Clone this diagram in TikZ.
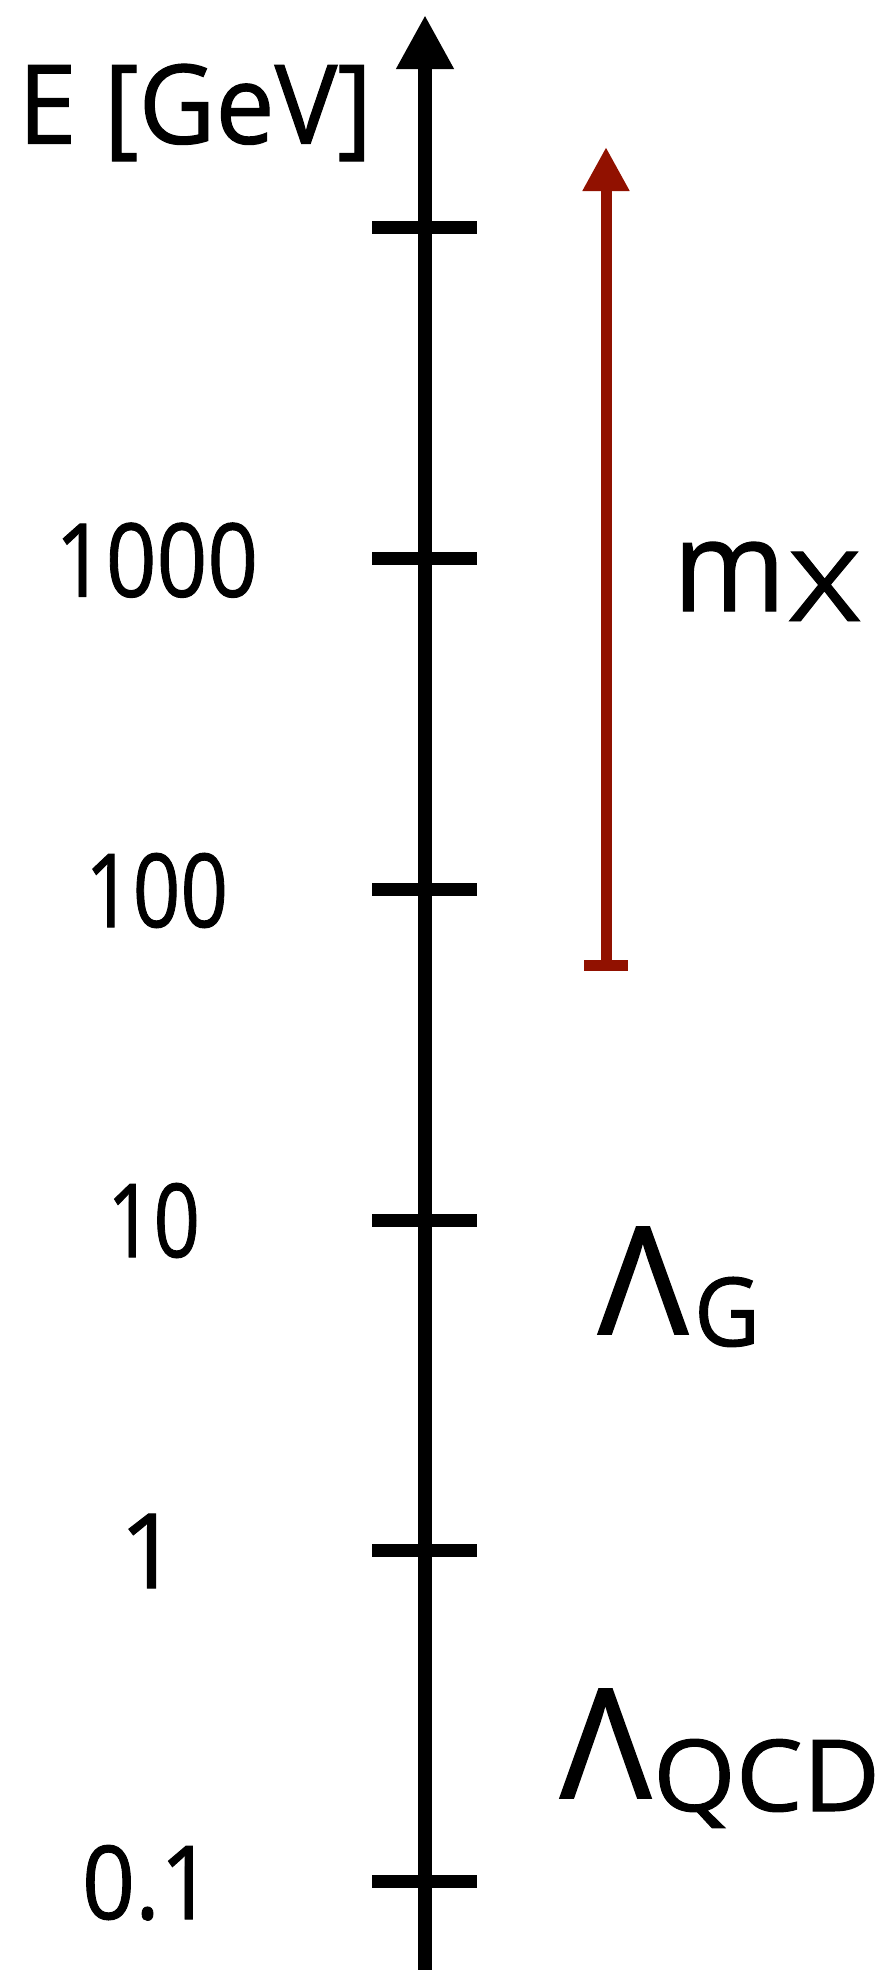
\documentclass[tikz,border=0pt]{standalone}
\usepackage{fontspec}
\setmainfont{Open Sans}[FakeBold=1]
\usetikzlibrary{arrows.meta}
\definecolor{massred}{RGB}{145,17,0}
\begin{document}
\begin{tikzpicture}[x=1pt,y=-1pt,
  lbl/.style={inner sep=0pt,outer sep=0pt,anchor=base west},
  tickmark/.style={line width=13pt},
  axisline/.style={line width=13.5pt,-{Triangle[length=54pt,width=54pt]}},
  massline/.style={massred,line width=11pt}]
\useasboundingbox (0,0) rectangle (883,1970);
% axis
\coordinate (axbot) at (425,1970);
\coordinate (axtop) at (425,15);
\draw[axisline] (axbot) -- (axtop);
\foreach \y in {227.5,558.5,889,1220,1550.5,1881}
  \draw[tickmark] (372,\y) -- (477,\y);
% axis title
\node[inner sep=0pt,outer sep=0pt,anchor=south west] (etitle) at (18,161) {\resizebox*{354pt}{97pt}{E [GeV]}};
% tick labels
\node[lbl] (l1000) at (55,596.7) {\resizebox{203pt}{74pt}{1000}};
\node[lbl] (l100) at (85,927) {\resizebox{143pt}{74pt}{100}};
\node[lbl] (l10) at (107,1257) {\resizebox{93pt}{74pt}{10}};
\node[lbl,anchor=base] (l1) at (149,1588) {\resizebox{!}{74pt}{1}};
\node[lbl] (l01) at (82,1919) {\resizebox{131pt}{74pt}{0.1}};
% mass arrow
\coordinate (mlo) at (606,965.5);
\coordinate (mhi) at (606,147);
\coordinate (barl) at (584,965.5);
\coordinate (barr) at (628,965.5);
\draw[massline,-{Triangle[length=44pt,width=44pt]}] (mlo) -- (mhi);
\draw[massline] (barl) -- (barr);
% scale labels
\node[lbl] (mx) at (673,611) {\resizebox{112.6pt}{69pt}{m}\hspace{3.4pt}\raisebox{-10pt}{\resizebox{71pt}{69pt}{X}}};
\node[lbl] (lamg) at (598,1334) {\resizebox{90pt}{107pt}{Λ}\hspace{6pt}\raisebox{-12pt}{\resizebox{66pt}{69pt}{G}}};
\node[lbl] (lamqcd) at (560,1798) {\resizebox{91pt}{109pt}{Λ}\hspace{2pt}\raisebox{-13pt}{\resizebox{227pt}{72pt}{QCD}}};
\end{tikzpicture}
\end{document}
